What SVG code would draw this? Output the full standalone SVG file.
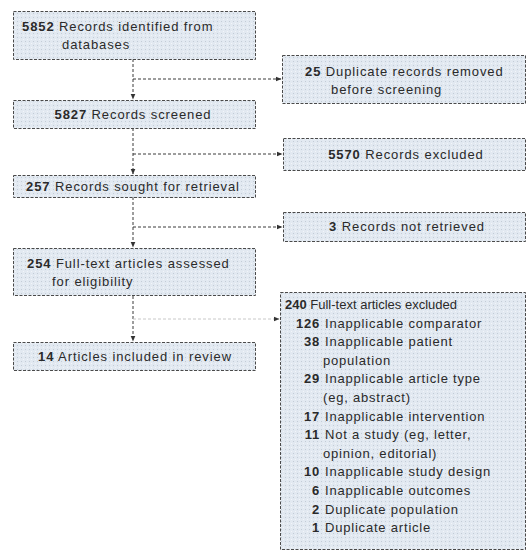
<svg xmlns="http://www.w3.org/2000/svg" width="528" height="552" viewBox="0 0 528 552">
<defs>
<pattern id="dots" width="4" height="4" patternUnits="userSpaceOnUse">
<rect width="4" height="4" fill="#e2e9f1"/>
<rect x="1" y="1" width="1" height="1" fill="#c3ccd6"/>
<rect x="3" y="3" width="1" height="1" fill="#f2f5f9"/>
</pattern>
<marker id="ah" viewBox="0 0 6 6" refX="5.5" refY="3" markerWidth="6" markerHeight="6" orient="auto" markerUnits="userSpaceOnUse">
<path d="M0,0.5 L6,3 L0,5.5 Z" fill="#333"/>
</marker>
</defs>
<style>
.box{fill:url(#dots);stroke:#4a4a4a;stroke-width:1;stroke-dasharray:3 1.5}
.t{font-family:"Liberation Sans",Arial,sans-serif;font-size:13px;fill:#2a2a2a;letter-spacing:0.9px}
.h{font-family:"Liberation Sans",Arial,sans-serif;font-size:13px;fill:#2a2a2a;letter-spacing:0px}
.s{font-family:"Liberation Sans",Arial,sans-serif;font-size:13px;fill:#2a2a2a;letter-spacing:0.8px}
.b{font-weight:bold}
.c{fill:none;stroke:#3a3a3a;stroke-width:1;stroke-dasharray:3 2}
.f{fill:none;stroke:#c8c8c8;stroke-width:1;stroke-dasharray:3 2}
</style>
<rect width="528" height="552" fill="#ffffff"/>
<g id="connectors">
<path class="c" d="M133,59 V99" marker-end="url(#ah)"/>
<path class="c" d="M133,79 H281" marker-end="url(#ah)"/>
<path class="c" d="M133,128 V174" marker-end="url(#ah)"/>
<path class="c" d="M133,154 H282" marker-end="url(#ah)"/>
<path class="c" d="M133,197 V247" marker-end="url(#ah)"/>
<path class="c" d="M133,227 H282" marker-end="url(#ah)"/>
<path class="c" d="M133,296 V341" marker-end="url(#ah)"/>
<path class="f" d="M133,319 H279" marker-end="url(#ah)"/>
</g>
<g id="n1">
<rect class="box" x="13.5" y="11.5" width="242" height="48"/>
<text class="t" x="22" y="31"><tspan class="b">5852</tspan> Records identified from</text>
<text class="t" x="62" y="49">databases</text>
</g>
<g id="n2">
<rect class="box" x="13.5" y="100.5" width="242" height="28"/>
<text class="t" x="133" y="119" text-anchor="middle"><tspan class="b">5827</tspan> Records screened</text>
</g>
<g id="n3">
<rect class="box" x="13.5" y="175.5" width="242" height="22"/>
<text class="t" x="133" y="191" text-anchor="middle"><tspan class="b">257</tspan> Records sought for retrieval</text>
</g>
<g id="n4">
<rect class="box" x="13.5" y="248.5" width="242" height="47"/>
<text class="t" x="27" y="268"><tspan class="b">254</tspan> Full-text articles assessed</text>
<text class="t" x="52" y="286">for eligibility</text>
</g>
<g id="n5">
<rect class="box" x="13.5" y="342.5" width="242" height="28"/>
<text class="t" x="135" y="361" text-anchor="middle"><tspan class="b">14</tspan> Articles included in review</text>
</g>
<g id="r1">
<rect class="box" x="282.5" y="55.5" width="243" height="48"/>
<text class="t" x="305" y="76"><tspan class="b">25</tspan> Duplicate records removed</text>
<text class="t" x="331" y="94">before screening</text>
</g>
<g id="r2">
<rect class="box" x="283.5" y="138.5" width="242" height="32"/>
<text class="t" x="406" y="159" text-anchor="middle"><tspan class="b">5570</tspan> Records excluded</text>
</g>
<g id="r3">
<rect class="box" x="283.5" y="212.5" width="242" height="29"/>
<text class="t" x="407" y="231" text-anchor="middle"><tspan class="b">3</tspan> Records not retrieved</text>
</g>
<g id="r4">
<rect class="box" x="280.5" y="292.5" width="245" height="257"/>
<text class="h" x="285" y="309"><tspan class="b">240</tspan> Full-text articles excluded</text>
<g class="s">
<text x="320" y="327.6" text-anchor="end" class="b">126</text><text x="325" y="327.6">Inapplicable comparator</text>
<text x="320" y="346.2" text-anchor="end" class="b">38</text><text x="325" y="346.2">Inapplicable patient</text>
<text x="323" y="364.8">population</text>
<text x="320" y="383.4" text-anchor="end" class="b">29</text><text x="325" y="383.4">Inapplicable article type</text>
<text x="323" y="402">(eg, abstract)</text>
<text x="320" y="420.6" text-anchor="end" class="b">17</text><text x="325" y="420.6">Inapplicable intervention</text>
<text x="320" y="439.2" text-anchor="end" class="b">11</text><text x="325" y="439.2">Not a study (eg, letter,</text>
<text x="323" y="457.8">opinion, editorial)</text>
<text x="320" y="476.4" text-anchor="end" class="b">10</text><text x="325" y="476.4">Inapplicable study design</text>
<text x="320" y="495" text-anchor="end" class="b">6</text><text x="325" y="495">Inapplicable outcomes</text>
<text x="320" y="513.6" text-anchor="end" class="b">2</text><text x="325" y="513.6">Duplicate population</text>
<text x="320" y="532.2" text-anchor="end" class="b">1</text><text x="325" y="532.2">Duplicate article</text>
</g>
</g>
</svg>
